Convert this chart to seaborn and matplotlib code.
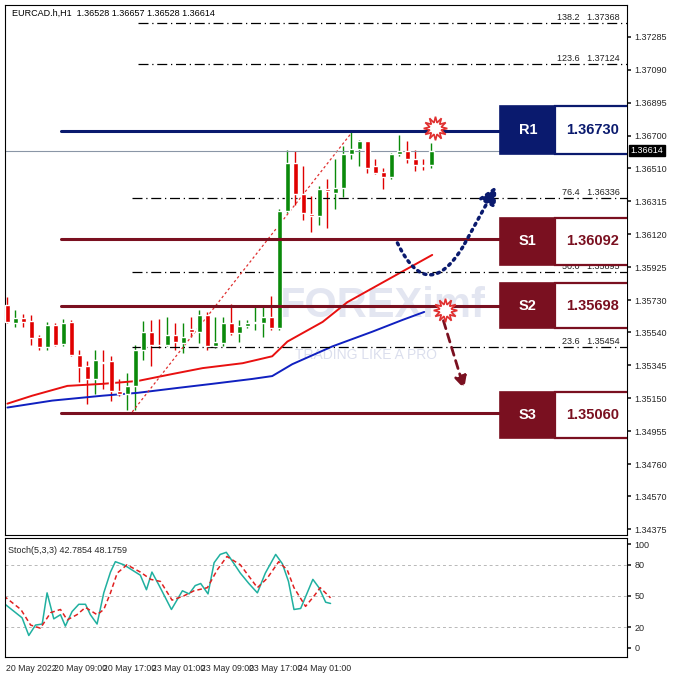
import matplotlib
matplotlib.use("Agg")
import matplotlib.pyplot as plt
import seaborn as sns
import numpy as np
import pandas as pd
from matplotlib.patches import Rectangle

sns.set_theme(style="white")
plt.rcParams['font.family'] = ['Liberation Sans', 'DejaVu Sans']

opens = [1.35699,1.35596,1.35627,1.35607,1.35510,1.35452,1.35582,1.35472,1.35602,1.35408,
         1.35343,1.35266,1.35365,1.35369,1.35194,1.35175,1.35223,1.35433,1.35543,1.35466,
         1.35462,1.35524,1.35475,1.35559,1.35543,1.35640,1.35456,1.35475,1.35596,1.35538,
         1.35578,1.35592,1.35596,1.35631,1.35563,1.36257,1.36538,1.36358,1.36236,1.36228,
         1.36387,1.36364,1.36391,1.36591,1.36624,1.36669,1.36523,1.36488,1.36459,1.36591,
         1.36610,1.36562,1.36527,1.36528]
highs = [1.35747,1.35669,1.35650,1.35640,1.35524,1.35602,1.35592,1.35621,1.35611,1.35437,
         1.35369,1.35437,1.35437,1.35398,1.35262,1.35301,1.35466,1.35607,1.35611,1.35621,
         1.35631,1.35592,1.35592,1.35631,1.35669,1.35660,1.35631,1.35631,1.35708,1.35611,
         1.35611,1.35689,1.35698,1.35757,1.36271,1.36620,1.36610,1.36523,1.36348,1.36407,
         1.36445,1.36562,1.36639,1.36727,1.36678,1.36669,1.36562,1.36513,1.36601,1.36707,
         1.36669,1.36620,1.36562,1.36657]
lows = [1.35592,1.35572,1.35572,1.35466,1.35437,1.35437,1.35456,1.35456,1.35402,1.35243,
        1.35116,1.35175,1.35204,1.35136,1.35165,1.35078,1.35078,1.35378,1.35340,1.35446,
        1.35456,1.35437,1.35417,1.35514,1.35475,1.35437,1.35446,1.35456,1.35524,1.35485,
        1.35563,1.35553,1.35514,1.35553,1.35553,1.36242,1.36290,1.36203,1.36135,1.36174,
        1.36154,1.36271,1.36339,1.36562,1.36523,1.36484,1.36474,1.36387,1.36445,1.36581,
        1.36542,1.36494,1.36500,1.36513]
closes = [1.35602,1.35627,1.35602,1.35505,1.35452,1.35582,1.35466,1.35592,1.35408,1.35336,
          1.35266,1.35375,1.35359,1.35194,1.35175,1.35223,1.35433,1.35543,1.35466,1.35462,
          1.35524,1.35485,1.35510,1.35543,1.35640,1.35456,1.35485,1.35596,1.35538,1.35578,
          1.35592,1.35602,1.35631,1.35563,1.36257,1.36538,1.36358,1.36242,1.36228,1.36387,
          1.36372,1.36391,1.36591,1.36624,1.36669,1.36513,1.36484,1.36459,1.36591,1.36610,
          1.36562,1.36529,1.36523,1.36614]

ma_red_x = [0,3.1,7.5,11.9,16.3,20.6,24.4,29.4,33.1,35,39.4,42.5,46.9,53.1]
ma_red_y = [1.35118,1.35165,1.35223,1.35235,1.35252,1.35293,1.35328,1.35357,1.35398,1.35485,1.35601,1.35718,1.35834,1.35997]
ma_blue_x = [0,5.6,11.9,16.3,21.3,25.6,30.6,33.1,35.6,40.6,45.6,49.4,52.1]
ma_blue_y = [1.35095,1.35136,1.35165,1.35182,1.35211,1.35235,1.35264,1.35281,1.35351,1.35456,1.35543,1.35613,1.35660]

stk_x = [-0.3,2.7,3.8,4.9,6.0,6.8,7.9,9.0,9.8,10.9,12.0,13.1,13.9,15.0,16.1,17.2,18.0,19.4,22.1,23.1,
         24.0,25.1,27.2,29.0,30.1,31.1,32.0,33.2,34.2,35.2,36.2,36.9,38.5,39.9,41.3,42.6,44.3,45.4,46.4,47.3,
         48.4,50.4,51.4,52.5,53.3]
stk_k = [43,29,12,22,23,53,28,32,21,35,42,42,32,23,53,73,83,80,70,56,
         73,61,37,55,52,60,62,52,82,90,92,86,72,62,53,72,90,81,64,37,
         38,66,58,44,42.8]
sig_x = [-0.3,2.5,4.1,5.7,7.4,9.0,10.1,11.7,13.1,15.0,16.1,17.2,18.3,19.9,22.1,23.8,25.4,27.3,29.2,30.9,
         33.1,34.7,36.3,38.5,41.3,42.9,44.8,46.2,47.3,49.2,50.6,51.6,53.3]
sig_d = [50,37,22,19,34,37,27,32,39,32,37,53,72,80,73,66,64,46,50,55,
         58,75,88,80,58,67,83,75,58,40,50,58,48.2]

price_ticks = [1.37285,1.37090,1.36895,1.36700,1.36510,1.36315,1.36120,1.35925,1.35730,1.35540,
               1.35345,1.35150,1.34955,1.34760,1.34570,1.34375]
time_labels = ["20 May 2022","20 May 09:00","20 May 17:00","23 May 01:00","23 May 09:00","23 May 17:00","24 May 01:00"]
fib_levels = [("138.2", 1.37368), ("123.6", 1.37124), ("76.4", 1.36336), ("50.0", 1.35895), ("23.6", 1.35454)]
sr_levels = [("R1", 1.36730, "#0a1a6e"), ("S1", 1.36092, "#7a1020"), ("S2", 1.35698, "#7a1020"), ("S3", 1.35060, "#7a1020")]
box_y = {"R1": (1.36594, 1.36877), "S1": (1.35938, 1.36215), "S2": (1.35565, 1.35831), "S3": (1.34915, 1.35187)}
current = 1.36614

fig = plt.figure(figsize=(6.78, 6.78), dpi=100)
ax = fig.add_axes([0.0074, 0.211, 0.918, 0.7816])
ax2 = fig.add_axes([0.0074, 0.031, 0.918, 0.1755])

idx = np.arange(len(opens))
o = np.array(opens); c = np.array(closes); h = np.array(highs); l = np.array(lows)
cols = np.where(c >= o, "#0a8a0a", "#e00000")
ax.vlines(idx, l, h, colors=cols, lw=1)
ax.bar(idx, np.maximum(np.abs(c - o), 0.00004), bottom=np.minimum(o, c), width=0.65, color=cols, zorder=3)

sns.lineplot(x=ma_red_x, y=ma_red_y, ax=ax, color="#e81010", lw=1.4)
sns.lineplot(x=ma_blue_x, y=ma_blue_y, ax=ax, color="#1020c0", lw=1.4)

ax.set_xlim(-0.3, 77.5)
ax.set_ylim(1.34342, 1.37474)
ax.yaxis.tick_right()
ax.set_yticks(price_ticks)
ax.set_yticklabels([f"{v:.5f}" for v in price_ticks], fontsize=6.5)
ax.tick_params(axis='y', length=3, pad=2, direction='out')
ax.set_xticks([])
for s in ax.spines.values():
    s.set_color("black"); s.set_linewidth(0.8)

ax.text(34, 1.3563, "FOREXimf", fontsize=30, fontweight='bold', color="#b0b8d8", alpha=0.35, zorder=1)
ax.text(36, 1.3538, "TRADING LIKE A PRO", fontsize=10, color="#b0b8d8", alpha=0.45, zorder=1)

for lab, v in fib_levels:
    x0 = 16.3 if v > 1.365 else 15.6
    ax.plot([x0, 77.5], [v, v], color="black", lw=0.9, ls=(0, (8, 3, 1, 3)))
    ax.text(76.5, v + 0.00005, f"{lab}   {v:.5f}", fontsize=6.5, ha='right', va='bottom', color="#222222")
ax.plot([15.6, 43.1], [1.35069, 1.36724], color="#e03030", lw=0.9, ls=(0, (2, 2)))

ax.axhline(current, color="#8a96a6", lw=0.8)

for lab, v, colr in sr_levels:
    ax.plot([6.7, 61.6], [v, v], color=colr, lw=2.2, zorder=4)
    y0, y1 = box_y[lab]
    ax.add_patch(Rectangle((61.6, y0), 6.9, y1 - y0, facecolor=colr, edgecolor=colr, lw=1.2, zorder=5))
    ax.add_patch(Rectangle((68.5, y0), 9.3, y1 - y0, facecolor="white", edgecolor=colr, lw=1.6, zorder=5))
    ax.text(65.05, (y0 + y1) / 2, lab, color="white", fontsize=10.5, fontweight='bold', ha='center', va='center', zorder=6)
    ax.text(73.1, (y0 + y1) / 2, f"{v:.5f}", color=colr, fontsize=10.5, fontweight='bold', ha='center', va='center', zorder=6)

t = np.linspace(0, 1, 30)
bx = (1 - t) ** 2 * 48.75 + 2 * (1 - t) * t * 52.5 + t ** 2 * 57
by = (1 - t) ** 2 * 1.36068 + 2 * (1 - t) * t * 1.35700 + t ** 2 * 1.36050
ax.plot(bx, by, color="#0a1a6e", lw=2.5, ls=(0, (0.6, 1.4)), dash_capstyle='round', zorder=6)
ax.annotate("", xy=(61.3, 1.36420), xytext=(57, 1.36050),
            arrowprops=dict(arrowstyle="-|>,head_width=0.45,head_length=0.9", color="#0a1a6e", lw=2.5, ls=(0, (0.6, 1.4))), zorder=6)
ax.annotate("", xy=(57.2, 1.35190), xytext=(54.4, 1.35624),
            arrowprops=dict(arrowstyle="-|>,head_width=0.3,head_length=0.6", color="#7a1020", lw=2, ls=(0, (3, 2))), zorder=6)
for sx, sy in [(53.4, 1.36747), (54.75, 1.35672)]:
    ax.plot(sx, sy, marker=(12, 1, 0), ms=17, mfc="white", mec="#e03030", mew=1.2, zorder=7)

ax.text(1.005, (current - 1.34342) / (1.37474 - 1.34342), f"{current:.5f}", transform=ax.transAxes,
        fontsize=6.5, color="white", va='center', ha='left',
        bbox=dict(boxstyle="square,pad=0.15", fc="black", ec="black"), zorder=8)
ax.text(0.012, 0.992, "EURCAD.h,H1  1.36528 1.36657 1.36528 1.36614", transform=ax.transAxes,
        fontsize=6.5, va='top', ha='left', color="black")

for g in [20, 50, 80]:
    ax2.axhline(g, color="#b8b8b8", lw=0.7, ls=(0, (3, 3)))
sns.lineplot(x=stk_x, y=stk_k, ax=ax2, color="#20b0a0", lw=1.1)
sns.lineplot(x=sig_x, y=sig_d, ax=ax2, color="#e02020", lw=1.1, ls=(0, (3, 2)))
ax2.set_xlim(-0.1, 102)
ax2.set_ylim(-8.7, 105.8)
ax2.yaxis.tick_right()
ax2.set_yticks([0, 20, 50, 80, 100])
ax2.set_yticklabels(["0", "20", "50", "80", "100"], fontsize=6.5)
ax2.tick_params(axis='y', length=3, pad=2)
ax2.set_xticks(np.arange(0, 49, 8))
ax2.set_xticklabels(time_labels, fontsize=6.3, ha='left')
ax2.tick_params(axis='x', length=3, pad=2)
for s in ax2.spines.values():
    s.set_color("black"); s.set_linewidth(0.8)
ax2.text(0.005, 0.93, "Stoch(5,3,3) 42.7854 48.1759", transform=ax2.transAxes, fontsize=6.5, va='top')

fig.savefig("out.png", dpi=100)
